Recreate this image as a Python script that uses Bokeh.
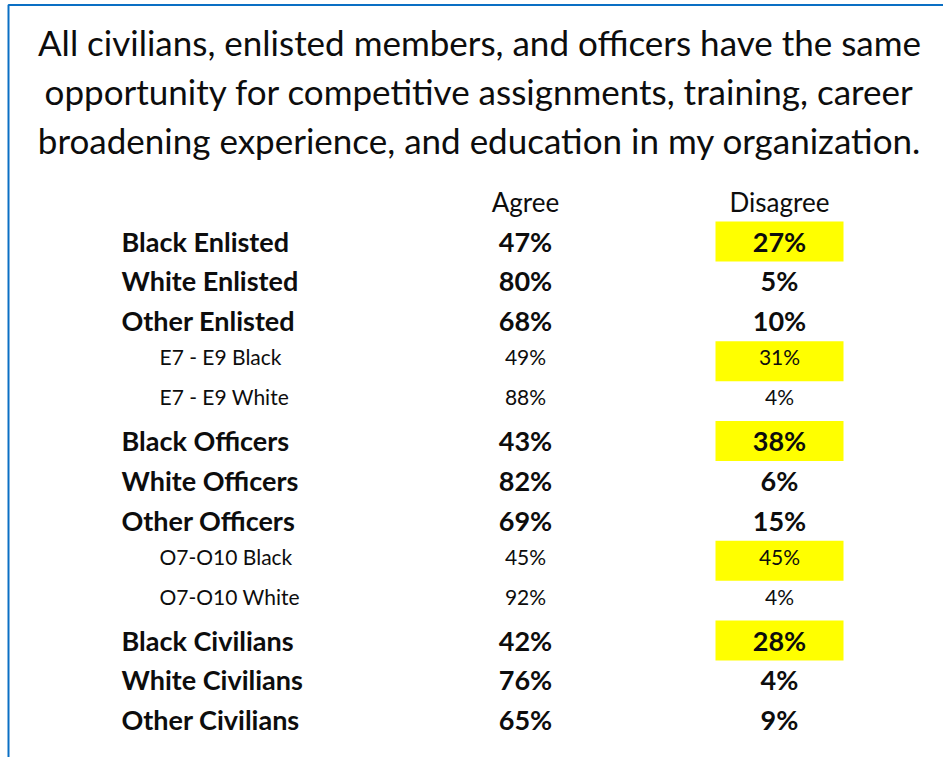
from bokeh.plotting import figure
from bokeh.models import Range1d, BoxAnnotation, ColumnDataSource
from bokeh.core.properties import value
from bokeh.embed import file_html
from bokeh.resources import INLINE

# ---- data ----
title_lines = [
    "All civilians, enlisted members, and officers have the same",
    "opportunity for competitive assignments, training, career",
    "broadening experience, and education in my organization.",
]
column_headers = ["Agree", "Disagree"]
groups = [
    "Black Enlisted", "White Enlisted", "Other Enlisted",
    "E7 - E9 Black", "E7 - E9 White",
    "Black Officers", "White Officers", "Other Officers",
    "O7-O10 Black", "O7-O10 White",
    "Black Civilians", "White Civilians", "Other Civilians",
]
is_subgroup = [False, False, False, True, True,
               False, False, False, True, True,
               False, False, False]
agree = [47, 80, 68, 49, 88, 43, 82, 69, 45, 92, 42, 76, 65]
disagree = [27, 5, 10, 31, 4, 38, 6, 15, 45, 4, 28, 4, 9]

# ---- layout constants (pixels within the frame) ----
W, H = 943, 757
FONT = "Lato"
ROW0, STEP = 241.0, 39.9
X_LABEL, X_SUBLABEL = 121, 159
X_AGREE, X_DIS = 525, 779
BOX_W, BOX_H = 128, 40
TITLE_SIZE, BOLD_SIZE, SUB_SIZE, HEAD_SIZE = "35px", "27px", "21px", "26px"
INK = "#0d0d0d"
BLUE = "#0A6FC4"

row_y = [ROW0 + STEP * i for i in range(len(groups))]
text_y = [y + (-4.5 if s else -0.5) for y, s in zip(row_y, is_subgroup)]

p = figure(width=W, height=H, output_backend="svg", toolbar_location=None,
           x_range=Range1d(0, W), y_range=Range1d(H, 0), min_border=0,
           outline_line_color=None)
p.axis.visible = False
p.grid.visible = False
p.background_fill_color = "white"
p.border_fill_color = "white"

# blue frame (only left and top edges are inside the picture)
p.add_layout(BoxAnnotation(left=8, right=W + 40, top=4.5, bottom=H + 40,
                           fill_alpha=0, line_alpha=1, line_color=BLUE, line_width=2))

# highlights for Black rows
hl = [i for i, g in enumerate(groups) if "Black" in g]
p.rect(x=[X_DIS] * len(hl), y=[row_y[i] for i in hl], width=BOX_W, height=BOX_H,
       fill_color="#FFFF00", line_color=None)

# title
p.text(x=[479] * 3, y=[41, 90, 139], text=title_lines,
       text_font=value(FONT), text_font_size=TITLE_SIZE, text_align="center",
       text_baseline="middle", text_color=INK)

# column headers
p.text(x=[X_AGREE, X_DIS], y=[201, 201], text=column_headers,
       text_font=value(FONT), text_font_size=HEAD_SIZE, text_align="center",
       text_baseline="middle", text_color=INK)

def rows(sub):
    idx = [i for i, s in enumerate(is_subgroup) if s == sub]
    return ColumnDataSource(dict(
        y=[text_y[i] for i in idx],
        label=[groups[i] for i in idx],
        agree=[f"{agree[i]}%" for i in idx],
        dis=[f"{disagree[i]}%" for i in idx],
    ))

for sub, xl, size, style in [(False, X_LABEL, BOLD_SIZE, "bold"),
                             (True, X_SUBLABEL, SUB_SIZE, "normal")]:
    src = rows(sub)
    common = dict(source=src, y="y", text_font=value(FONT), text_font_size=size,
                  text_font_style=style, text_baseline="middle", text_color=INK)
    p.text(x=xl, text="label", text_align="left", **common)
    p.text(x=X_AGREE, text="agree", text_align="center", **common)
    p.text(x=X_DIS, text="dis", text_align="center", **common)

open("out.html", "w").write(file_html(p, INLINE))
